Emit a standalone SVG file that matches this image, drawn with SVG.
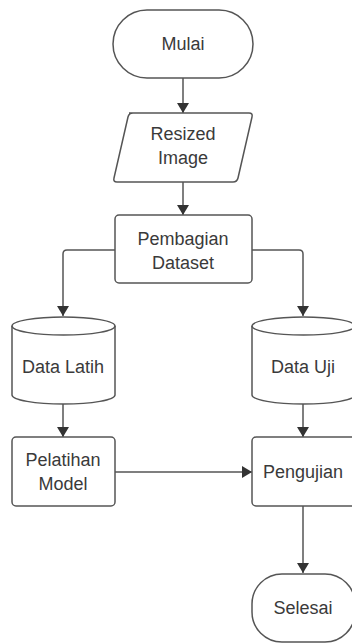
<svg xmlns="http://www.w3.org/2000/svg" width="352" height="643" viewBox="0 0 352 643">
<style>
.s{fill:#fff;stroke:#555;stroke-width:1.5}
.t{font-family:"Liberation Sans",Arial,sans-serif;font-size:18px;fill:#3a3a3a;text-anchor:middle}
.c{fill:none;stroke:#555;stroke-width:1.5}
</style>
<defs>
<marker id="ah" markerWidth="10" markerHeight="12" refX="10" refY="6" orient="auto" markerUnits="userSpaceOnUse">
<path d="M0,0 L10,6 L0,12 Z" fill="#333"/>
</marker>
</defs>
<rect width="352" height="643" fill="#fff"/>
<g id="connectors">
<path class="c" d="M183,78 V113" marker-end="url(#ah)"/>
<path class="c" d="M183,182 V215" marker-end="url(#ah)"/>
<path class="c" d="M115,250 H67 Q63,250 63,254 V316" marker-end="url(#ah)"/>
<path class="c" d="M252,250 H299 Q303,250 303,254 V316" marker-end="url(#ah)"/>
<path class="c" d="M63,404 V437" marker-end="url(#ah)"/>
<path class="c" d="M303,404 V437" marker-end="url(#ah)"/>
<path class="c" d="M115,472 H252" marker-end="url(#ah)"/>
<path class="c" d="M303,506 V573" marker-end="url(#ah)"/>
</g>
<g id="mulai">
<rect class="s" x="113" y="10" width="140" height="68" rx="34"/>
<text class="t" x="183" y="50">Mulai</text>
</g>
<g id="resized">
<path class="s" d="M129,113 H249 Q253,113 252,117 L238,178 Q237,182 233,182 H117 Q113,182 114,178 L128,117 Q129,113 133,113 Z"/>
<text class="t" x="183" y="140">Resized</text>
<text class="t" x="183" y="164">Image</text>
</g>
<g id="pembagian">
<rect class="s" x="115" y="215" width="137" height="68" rx="4"/>
<text class="t" x="183" y="245">Pembagian</text>
<text class="t" x="183" y="269">Dataset</text>
</g>
<g id="latih">
<path class="s" d="M12,326 A51.5,9 0 0 1 115,326 V395 A51.5,9 0 0 1 12,395 Z"/>
<path class="c" d="M12,326 A51.5,9 0 0 0 115,326"/>
<text class="t" x="63" y="373">Data Latih</text>
</g>
<g id="uji">
<path class="s" d="M252,326 A51.5,9 0 0 1 355,326 V395 A51.5,9 0 0 1 252,395 Z"/>
<path class="c" d="M252,326 A51.5,9 0 0 0 355,326"/>
<text class="t" x="303" y="373">Data Uji</text>
</g>
<g id="pelatihan">
<rect class="s" x="12" y="437" width="103" height="69" rx="4"/>
<text class="t" x="63" y="466">Pelatihan</text>
<text class="t" x="63" y="490">Model</text>
</g>
<g id="pengujian">
<rect class="s" x="252" y="437" width="103" height="69" rx="4"/>
<text class="t" x="303" y="478">Pengujian</text>
</g>
<g id="selesai">
<rect class="s" x="252" y="574" width="103" height="68" rx="30"/>
<text class="t" x="303" y="614">Selesai</text>
</g>
</svg>
